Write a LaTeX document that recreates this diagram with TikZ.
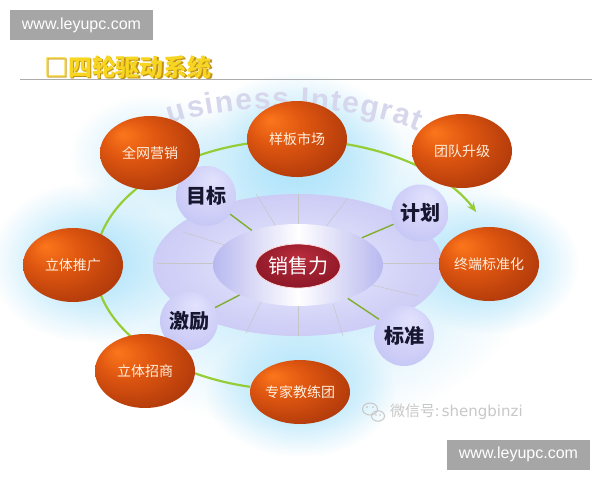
\documentclass[tikz,border=0pt]{standalone}
\usepackage{fontspec}
\setmainfont{Liberation Sans}
\newfontfamily\cjk{Noto Sans CJK SC}
\newfontfamily\dejavu{DejaVu Sans}
\usetikzlibrary{shapes.geometric,arrows.meta,fadings,decorations.text,calc}
\definecolor{wmbox}{RGB}{166,166,166}
\definecolor{titley}{RGB}{246,214,32}
\definecolor{titles}{RGB}{196,146,24}
\definecolor{glowc}{RGB}{158,222,250}
\definecolor{ringout}{RGB}{204,204,246}
\definecolor{ringin}{RGB}{234,234,253}
\definecolor{lav}{RGB}{184,184,240}
\definecolor{lavhi}{RGB}{226,226,253}
\definecolor{lavmid}{RGB}{200,200,246}
\definecolor{lavlo}{RGB}{182,182,236}
\definecolor{redhi}{RGB}{185,45,60}
\definecolor{redlo}{RGB}{110,8,25}
\definecolor{orhi}{RGB}{252,118,28}
\definecolor{ormid}{RGB}{222,86,16}
\definecolor{ordark}{RGB}{168,52,10}
\definecolor{oredge}{RGB}{105,34,10}
\definecolor{cream}{RGB}{255,238,220}
\definecolor{arcgreen}{RGB}{150,205,55}
\definecolor{biz}{RGB}{214,214,236}
\definecolor{wmtext}{RGB}{200,200,200}
\definecolor{circtext}{RGB}{22,22,48}
\tikzfading[name=glowfade, inner color=transparent!0, outer color=transparent!100]
\pgfdeclareradialshading{orb}{\pgfpoint{-14bp}{13bp}}{color(0bp)=(orhi); color(14bp)=(ormid); color(36bp)=(ordark); color(50bp)=(oredge)}
\pgfdeclareradialshading{lavorb}{\pgfpoint{6bp}{14bp}}{color(0bp)=(lavhi); color(30bp)=(lavmid); color(50bp)=(lavlo)}
\pgfdeclareradialshading{redorb}{\pgfpoint{0bp}{12bp}}{color(0bp)=(redhi); color(50bp)=(redlo)}
\tikzset{
  wmboxstyle/.style={fill=wmbox, text=white, minimum width=143pt, minimum height=30pt, inner sep=0pt, font=\fontsize{16}{16}\selectfont},
  orangeell/.style={ellipse, shade, shading=orb, minimum width=100pt, minimum height=74pt, inner sep=0pt, text=cream, font=\cjk\fontsize{14}{14}\selectfont},
  lavcirc/.style={circle, shade, shading=lavorb, minimum size=60pt, inner sep=0pt, text=circtext, font=\cjk\bfseries\fontsize{20}{20}\selectfont},
  glow/.style={fill=glowc, path fading=glowfade},
  rayline/.style={gray!45, line width=0.5pt},
  linkline/.style={arcgreen!85!black, line width=1.4pt},
  arcline/.style={arcgreen, line width=2.2pt, -{Stealth[length=10pt,width=8pt]}}
}
\begin{document}
\begin{tikzpicture}[x=1pt,y=-1pt]
\useasboundingbox (0,0) rectangle (600,480);
\fill[white] (0,0) rectangle (600,480);
% glows
\fill[glow, opacity=0.8] (298,265) ellipse[x radius=235, y radius=165];
\fill[glow] (297,150) ellipse[x radius=105, y radius=78];
\fill[glow] (85,262) ellipse[x radius=95, y radius=80];
\fill[glow] (489,264) ellipse[x radius=90, y radius=70];
\fill[glow] (300,392) ellipse[x radius=95, y radius=65];
\fill[glow, opacity=0.6] (150,155) ellipse[x radius=80, y radius=60];
% business integration watermark
\path[decorate, decoration={text along path, text align=fit to path,
  text={|\fontsize{30}{30}\selectfont\bfseries\color{biz}|usiness Integrat}}]
  (170,124) .. controls (230,104) and (340,100) .. (418,131);
% title
\node[font=\cjk\bfseries\fontsize{24}{24}\selectfont, text=titles] at (129.5,68.5) {□四轮驱动系统};
\node[font=\cjk\bfseries\fontsize{24}{24}\selectfont, text=titley] (title) at (128,67) {□四轮驱动系统};
\draw[gray!65, line width=0.8pt] (20,79) -- (592,79);
% watermark boxes
\node[wmboxstyle] (wm1) at (81.5,25) {www.leyupc.com};
\node[wmboxstyle] (wm2) at (518.5,454.5) {www.leyupc.com};
% green ring arc
\coordinate (arcend) at ($(295,265)+(335:200 and 125)$);
\draw[arcline] (295,265) ++(103:200 and 125) arc[start angle=103, end angle=335, x radius=200, y radius=125];
% middle ring
\node[ellipse, minimum width=290pt, minimum height=142pt, inner sep=0pt, inner color=ringin, outer color=ringout] (outer) at (298,265) {};
\draw[rayline] (256,194) -- (282,236);
\draw[rayline] (298,194) -- (298,232);
\draw[rayline] (348,198) -- (320,234);
\draw[rayline] (157,263) -- (222,263);
\draw[rayline] (183,232) -- (228,246);
\draw[rayline] (440,263) -- (375,263);
\draw[rayline] (418,296) -- (368,284);
\draw[rayline] (333,304) -- (343,336);
\draw[rayline] (298,300) -- (298,336);
\draw[rayline] (262,300) -- (246,333);
\node[ellipse, minimum width=170pt, minimum height=82pt, inner sep=0pt, left color=lav, right color=lav, middle color=white] (inner) at (298,265) {};
\node[ellipse, shade, shading=redorb, draw=red!15, line width=0.8pt, minimum width=84pt, minimum height=44pt, inner sep=0pt, text=white, font=\cjk\fontsize{20}{20}\selectfont] (core) at (298,266) {销售力};
% lavender circles
\node[lavcirc] (mubiao) at (206,196) {目标};
\node[lavcirc, minimum size=57pt] (jihua) at (420,213) {计划};
\node[lavcirc, minimum size=58pt] (jili) at (189,321) {激励};
\node[lavcirc] (biaozhun) at (404,336) {标准};
\draw[linkline] (mubiao) -- (inner);
\draw[linkline] (jihua) -- (inner);
\draw[linkline] (jili) -- (inner);
\draw[linkline] (biaozhun) -- (inner);
% orange ellipses
\node[orangeell] (quanwang) at (150,153) {全网营销};
\node[orangeell, minimum height=76pt] (yangban) at (297,139) {样板市场};
\node[orangeell] (tuandui) at (462,151) {团队升级};
\node[orangeell] (zhongduan) at (489,264) {终端标准化};
\node[orangeell] (tuiguang) at (73,265) {立体推广};
\node[orangeell] (zhaoshang) at (145,371) {立体招商};
\node[orangeell, minimum height=64pt] (zhuanjia) at (300,392) {专家教练团};
% wechat watermark
\draw[wmtext, line width=1pt] (370,409) ellipse[x radius=7.5, y radius=6];
\draw[wmtext, line width=1pt] (378,416) ellipse[x radius=6.5, y radius=5.2];
\fill[wmtext] (367,407) circle (1) (373,407) circle (1) (376,415) circle (0.9) (380,415) circle (0.9);
\node[anchor=west, text=wmtext, inner sep=0pt] (wechat) at (390,412) {\cjk\fontsize{15}{15}\selectfont 微信号:\dejavu\fontsize{15}{15}\selectfont\,shengbinzi};
\end{tikzpicture}
\end{document}
